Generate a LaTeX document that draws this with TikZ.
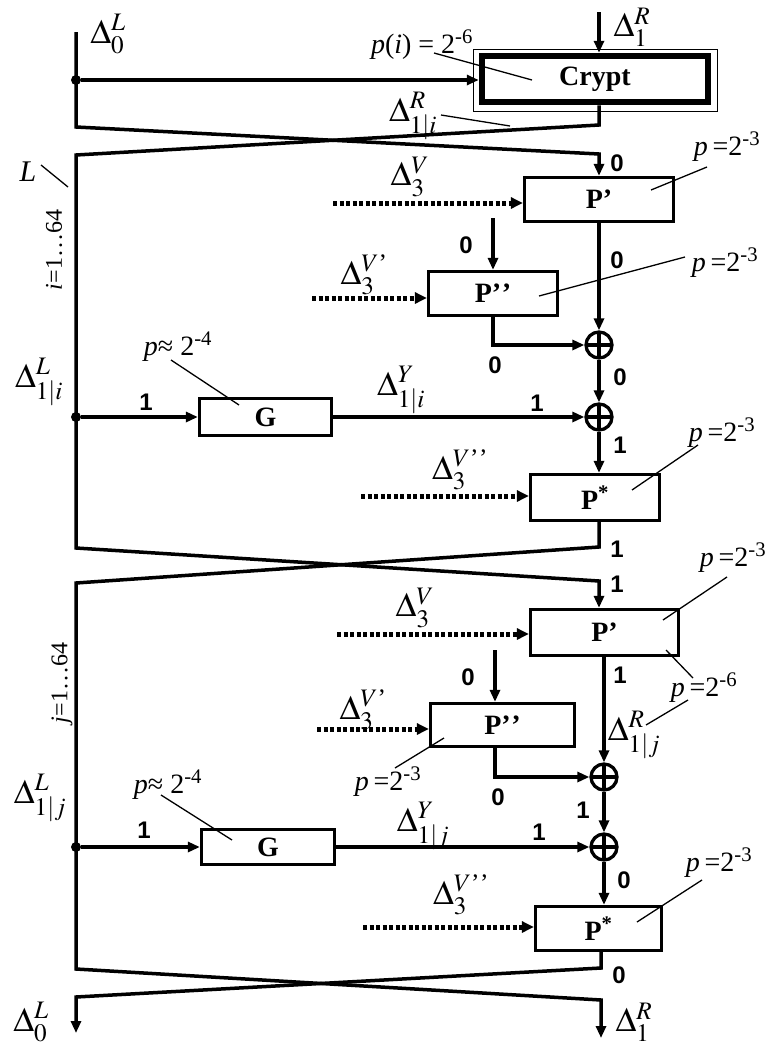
\documentclass[tikz,border=0pt]{standalone}
\usepackage{amsmath}
\usepackage{mathptmx}
\usepackage{fontspec}
\setmainfont{Liberation Serif}
\setsansfont{Liberation Sans}
\usetikzlibrary{arrows.meta,calc}
\tikzset{
  blk/.style={draw, line width=3.3pt, inner sep=0pt, font=\fontsize{28}{30}\selectfont\bfseries},
  xor/.style={circle, draw, line width=3.3pt, minimum size=26pt, inner sep=0pt,
    path picture={\draw[line width=3.3pt] (path picture bounding box.north) -- (path picture bounding box.south)
      (path picture bounding box.west) -- (path picture bounding box.east);}},
  jn/.style={circle, fill, minimum size=10pt, inner sep=0pt},
  sig/.style={line width=3.5pt, -{Triangle[length=12pt,width=10pt]}},
  keyin/.style={line width=5pt, dash pattern=on 4pt off 2.5pt, -{Triangle[length=12pt,width=11pt]}},
  ptr/.style={line width=1.3pt},
  dl/.style={font=\fontsize{34}{36}\selectfont, inner sep=0pt},
  pl/.style={font=\fontsize{28}{30}\selectfont, inner sep=0pt},
  bit/.style={font=\fontsize{24}{26}\selectfont\sffamily\bfseries, inner sep=0pt},
}
\newcommand{\prb}[1]{\textit{p}\,=2\textsuperscript{#1}}
\newcommand{\dpr}{’\kern0.6pt’}

\begin{document}
\begin{tikzpicture}[x=1pt,y=-1pt]
        \useasboundingbox (0,0) rectangle (765,1047);

        % Round i: Crypt
        \coordinate (rin) at (599,12);
        \coordinate (lin) at (76,32);
        \node[jn] (j0) at (76,80) {};
        \node[blk, line width=6.5pt, minimum width=226pt, minimum height=46pt] (crypt) at (595,79) {Crypt};
        \draw[line width=1.3pt] ($(crypt.north west)+(-5,-3.5)$) rectangle ($(crypt.south east)+(6,6)$);
        \draw[sig] (rin) -- (rin |- crypt.north);
        \draw[sig] (j0) -- (j0 -| crypt.west);

        % Crossings
        \coordinate (c1a) at (76,127);
        \coordinate (c1b) at (599,125);
        \coordinate (c1c) at (76,155);
        \coordinate (c1d) at (599,154);
        \coordinate (c2a) at (76,548);
        \coordinate (c2b) at (599,547);
        \coordinate (c2c) at (76,583);
        \coordinate (c2d) at (599,581);
        \coordinate (c3a) at (76,969);
        \coordinate (c3b) at (601,968);
        \coordinate (c3c) at (76,997);
        \coordinate (c3d) at (601,1000);
        \coordinate (lout) at (76,1033);
        \coordinate (rout) at (601,1038);

        % Round i: boxes
        \node[blk, minimum width=149pt, minimum height=44pt] (pa1) at (599,199.5) {P’};
        \node[blk, minimum width=129pt, minimum height=44pt] (pb1) at (493,293.5) {P\dpr};
        \node[xor] (x1) at (599,345) {};
        \node[xor] (x2) at (599,417) {};
        \node[jn] (j1) at (76,417) {};
        \node[blk, minimum width=132pt, minimum height=37pt] (g1) at (265.5,417) {G};
        \node[blk, minimum width=129pt, minimum height=46pt] (pc1) at (595,497.5) {P\textsuperscript{*}};

        % Round j: boxes
        \node[blk, minimum width=148pt, minimum height=46pt] (pa2) at (604.5,632.5) {P’};
        \node[blk, minimum width=144pt, minimum height=43pt] (pb2) at (502.5,725) {P\dpr};
        \node[xor] (x3) at (604,777) {};
        \node[xor] (x4) at (604,847) {};
        \node[jn] (j2) at (76,847) {};
        \node[blk, minimum width=133pt, minimum height=35pt] (g2) at (268,847) {G};
        \node[blk, minimum width=126pt, minimum height=44pt] (pc2) at (598.5,928.5) {P\textsuperscript{*}};

        % Main lines
        \draw[sig] (lin) -- (c1a) -- (c1d) -- (pa1.north);
        \draw[sig] (crypt.south -| c1b) -- (c1b) -- (c1c) -- (c2a) -- (c2d) -- (c2d |- pa2.north);
        \draw[sig] (pc1.south -| c2b) -- (c2b) -- (c2c) -- (c3a) -- (c3d) -- (rout);
        \draw[sig] (pc2.south -| c3b) -- (c3b) -- (c3c) -- (lout);

        % Round i: connections
        \coordinate (b1) at (493,218);
        \draw[sig] (b1) -- (pb1.north);
        \draw[sig] (pa1.south) -- (x1.north);
        \draw[sig] (pb1.south) |- (x1.west);
        \draw[sig] (x1.south) -- (x2.north);
        \draw[sig] (j1) -- (g1.west);
        \draw[sig] (g1.east) -- (x2.west);
        \draw[sig] (x2.south) -- (x2 |- pc1.north);

        % Round j: connections
        \coordinate (b2) at (495,650);
        \draw[sig] (b2) -- (b2 |- pb2.north);
        \draw[sig] (x3 |- pa2.south) -- (x3.north);
        \draw[sig] (b2 |- pb2.south) |- (x3.west);
        \draw[sig] (x3.south) -- (x4.north);
        \draw[sig] (j2) -- (g2.west);
        \draw[sig] (g2.east) -- (x4.west);
        \draw[sig] (x4.south) -- (x4 |- pc2.north);

        % Key inputs
        \coordinate (v1) at (333,203);
        \coordinate (v2) at (312,298);
        \coordinate (v3) at (361,496);
        \coordinate (v4) at (337,634);
        \coordinate (v5) at (317,729);
        \coordinate (v6) at (363,927);
        \draw[keyin] (v1) -- (v1 -| pa1.west);
        \draw[keyin] (v2) -- (v2 -| pb1.west);
        \draw[keyin] (v3) -- (v3 -| pc1.west);
        \draw[keyin] (v4) -- (v4 -| pa2.west);
        \draw[keyin] (v5) -- (v5 -| pb2.west);
        \draw[keyin] (v6) -- (v6 -| pc2.west);

        % Differences
        \node[dl] (d0l) at (108,34) {$\Delta^{L}_{0}$};
        \node[dl] (d1r) at (632,27) {$\Delta^{R}_{1}$};
        \node[dl] (dri) at (413,116) {$\Delta^{R}_{1|i}$};
        \node[dl] (dv1) at (410,177) {$\Delta^{V}_{3}$};
        \node[dl] (dv2) at (364,275) {$\Delta^{V\text{’}}_{3}$};
        \node[dl] (dli) at (39,382) {$\Delta^{L}_{1|i}$};
        \node[dl] (dyi) at (401,390) {$\Delta^{Y}_{1|i}$};
        \node[dl] (dv3) at (460,470) {$\Delta^{V\text{\dpr}}_{3}$};
        \node[dl] (dv4) at (415,608) {$\Delta^{V}_{3}$};
        \node[dl] (dv5) at (363,710) {$\Delta^{V\text{’}}_{3}$};
        \node[dl] (drj) at (634,735) {$\Delta^{R}_{1|j}$};
        \node[dl] (dlj) at (40,798) {$\Delta^{L}_{1|j}$};
        \node[dl] (dyj) at (423,826) {$\Delta^{Y}_{1|j}$};
        \node[dl] (dv6) at (461,895) {$\Delta^{V\text{\dpr}}_{3}$};
        \node[dl] (e0l) at (31,1022) {$\Delta^{L}_{0}$};
        \node[dl] (e1r) at (634,1022) {$\Delta^{R}_{1}$};

        % Probabilities
        \node[pl] (pcr) at (422,45) {\textit{p}(\textit{i}) = 2\textsuperscript{-6}};
        \node[pl] (ppa1) at (727,147) {\prb{-3}};
        \node[pl] (ppb1) at (725,263) {\prb{-3}};
        \node[pl] (pg1) at (178,347) {\textit{p}≈ 2\textsuperscript{-4}};
        \node[pl] (ppc1) at (722,433) {\prb{-3}};
        \node[pl] (ppa2) at (733,558) {\prb{-3}};
        \node[pl] (ppr2) at (704,688) {\prb{-6}};
        \node[pl] (ppb2) at (388,782) {\prb{-3}};
        \node[pl] (pg2) at (168,785) {\textit{p}≈ 2\textsuperscript{-4}};
        \node[pl] (ppc2) at (719,863) {\prb{-3}};

        % Loop labels
        \node[pl, font=\fontsize{30}{32}\selectfont] (lL) at (28,172) {\textit{L}};
        \node[pl, font=\fontsize{24}{26}\selectfont, rotate=90] (li) at (54,250) {\textit{i}=1…64};
        \node[pl, font=\fontsize{24}{26}\selectfont, rotate=90] (lj) at (62,683) {\textit{j}=1…64};

        % Bit values
        \foreach \x/\y/\t [count=\k] in {617/163/0, 466/245/0, 617/260/0, 495/365/0, 620/377/0,
            146/402/1, 537/403/1, 620/445/1, 617/549/1, 617/584/1, 620/675/1, 468/677/0,
            498/797/0, 583/810/1, 144/830/1, 539/832/1, 624/880/0, 619/975/0}
          \node[bit] (bit\k) at (\x,\y) {\t};

        % Leader lines
        \foreach \xa/\ya/\xb/\yb in {434/53/532/80, 441/115/510/126, 707/167/651/190, 41/165/68/187,
            685/257/539/296, 171/360/239/405, 698/445/632/490, 727/577/663/620, 666/650/693/678,
            646/725/688/700, 444/738/395/768, 161/795/232/840, 702/880/637/922}
          \draw[ptr] (\xa,\ya) -- (\xb,\yb);

\end{tikzpicture}
\end{document}
